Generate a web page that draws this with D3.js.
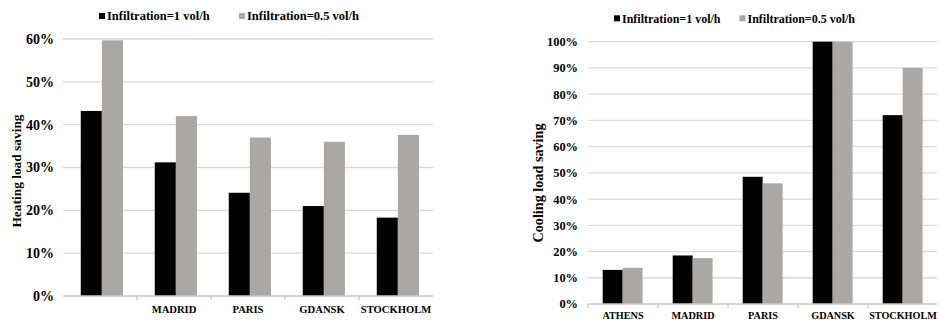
<!DOCTYPE html>
<html>
<head>
<meta charset="utf-8">
<script src="https://cdn.jsdelivr.net/npm/d3@7"></script>
<style>
  html, body { margin: 0; padding: 0; background: #fff; }
  svg { display: block; }
</style>
</head>
<body>
<svg id="chart" width="939" height="321"></svg>
<script>
// Cities and their short labels on the category axis
const cities = ["ATHENS", "MADRID", "PARIS", "GDANSK", "STOCKHOLM"];
const heatingLabels = ["", "MADRID", "PARIS", "GDANSK", "STOCKHOLM"];
const coolingLabels = ["ATHENS", "MADRID", "PARIS", "GDANSK", "STOCKHOLM"];

// Series
const seriesNames = ["Infiltration=1 vol/h", "Infiltration=0.5 vol/h"];
const seriesColors = ["#000000", "#aaa7a7"];

// Heating load saving (fraction)
const heating1 = [0.432, 0.312, 0.241, 0.210, 0.183];
const heating05 = [0.597, 0.420, 0.370, 0.360, 0.376];

// Cooling load saving (fraction)
const cooling1 = [0.130, 0.185, 0.485, 1.000, 0.720];
const cooling05 = [0.138, 0.175, 0.460, 1.000, 0.900];

// Value-axis ticks
const heatingTicks = [0, 0.1, 0.2, 0.3, 0.4, 0.5, 0.6];
const coolingTicks = [0, 0.1, 0.2, 0.3, 0.4, 0.5, 0.6, 0.7, 0.8, 0.9, 1.0];

const FONT = "'Liberation Serif', 'Times New Roman', serif";
const svg = d3.select("#chart");

function styleText(sel, size) {
  sel.style("font-family", FONT).style("font-weight", "bold")
    .style("font-size", size + "px").attr("fill", "#000");
}

function drawPanel(cfg) {
  const g = svg.append("g");
  const x0 = d3.scaleBand().domain(cities).range(cfg.xr).padding(0);
  const bw = x0.bandwidth();
  const x1 = d3.scaleBand().domain(seriesNames)
    .range([bw * cfg.inner[0], bw * cfg.inner[1]]).padding(0);
  const y = d3.scaleLinear().domain([0, cfg.max]).range(cfg.yr);

  // Horizontal gridlines
  g.selectAll("line.grid").data(cfg.ticks.filter(t => t > 0)).join("line")
    .attr("class", "grid")
    .attr("x1", cfg.xr[0]).attr("x2", cfg.gridEnd)
    .attr("y1", d => y(d)).attr("y2", d => y(d))
    .attr("stroke", "#d9d9d9").attr("stroke-width", 1.3);

  // Value axis labels
  const yAxis = d3.axisLeft(y).tickValues(cfg.ticks).tickSize(0).tickPadding(cfg.yPad)
    .tickFormat(d3.format(".0%"));
  const ya = g.append("g").attr("transform", `translate(${cfg.xr[0]},0)`).call(yAxis);
  ya.attr("font-family", null);
  ya.select(".domain").remove();
  styleText(ya.selectAll("text"), cfg.tickFont);

  // Bars
  const rows = cities.map((c, i) => ({ city: c, vals: [cfg.s1[i], cfg.s2[i]] }));
  const groups = g.selectAll("g.grp").data(rows).join("g")
    .attr("class", "grp")
    .attr("transform", d => `translate(${x0(d.city)},0)`);
  groups.selectAll("rect").data(d => d.vals.map((v, k) => ({ v, k }))).join("rect")
    .attr("x", d => x1(seriesNames[d.k]))
    .attr("width", x1.bandwidth())
    .attr("y", d => y(d.v))
    .attr("height", d => y(0) - y(d.v))
    .attr("fill", d => seriesColors[d.k]);

  // Category axis
  const xAxis = d3.axisBottom(x0).tickSize(0).tickPadding(cfg.xPad)
    .tickFormat((d, i) => cfg.labels[i]);
  const xa = g.append("g").attr("transform", `translate(0,${y(0)})`).call(xAxis);
  xa.attr("font-family", null);
  xa.select(".domain").attr("stroke", "#c8c8c8").attr("stroke-width", 1.3)
    .attr("d", `M${cfg.xr[0]},0H${cfg.gridEnd}`);
  styleText(xa.selectAll("text"), cfg.catFont);
  // Tick marks between categories
  xa.selectAll("line.sep").data(cities.slice(cfg.sepStart)).join("line")
    .attr("class", "sep")
    .attr("x1", d => x0(d)).attr("x2", d => x0(d))
    .attr("y1", 0).attr("y2", 4)
    .attr("stroke", "#c8c8c8").attr("stroke-width", 1.2);

  // Axis title
  const title = g.append("text")
    .attr("transform", `translate(${cfg.titleX},${cfg.titleY}) rotate(-90)`)
    .attr("text-anchor", "middle")
    .text(cfg.title);
  styleText(title, cfg.titleFont);

  // Legend
  const leg = g.selectAll("g.leg").data(seriesNames).join("g")
    .attr("class", "leg")
    .attr("transform", (d, i) => `translate(${cfg.legX[i]},${cfg.legY})`);
  leg.append("rect").attr("x", 0).attr("y", -3).attr("width", 6).attr("height", 6)
    .attr("fill", (d, i) => seriesColors[i]);
  styleText(leg.append("text").attr("x", 8).attr("y", 0).attr("dy", "0.35em")
    .text(d => d), cfg.legFont);
}

drawPanel({
  xr: [63, 433], gridEnd: 433, yr: [296, 39], max: 0.6,
  inner: [0.24, 0.81], ticks: heatingTicks,
  s1: heating1, s2: heating05, labels: heatingLabels,
  tickFont: 14, catFont: 10.6, legFont: 12.5, titleFont: 13.4,
  yPad: 9, xPad: 9, sepStart: 1,
  title: "Heating load saving", titleX: 21, titleY: 171,
  legX: [99, 239], legY: 16
});

drawPanel({
  xr: [588, 938], gridEnd: 937, yr: [304, 41.7], max: 1.0,
  inner: [0.21, 0.78], ticks: coolingTicks,
  s1: cooling1, s2: cooling05, labels: coolingLabels,
  tickFont: 12.4, catFont: 10.2, legFont: 12, titleFont: 14.2,
  yPad: 10, xPad: 8, sepStart: 0,
  title: "Cooling load saving", titleX: 543, titleY: 183,
  legX: [614, 739.5], legY: 18.3
});
</script>
</body>
</html>
